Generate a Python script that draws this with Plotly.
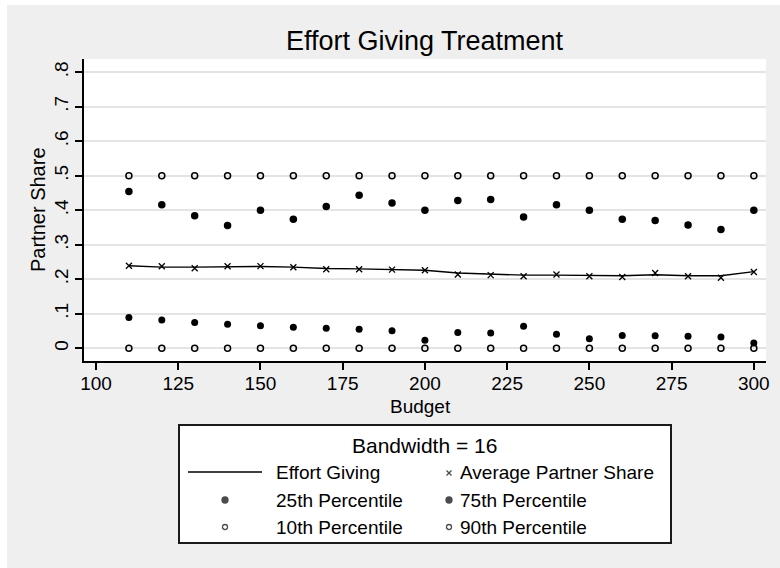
import plotly.graph_objects as go

# Budget levels
budget = [110, 120, 130, 140, 150, 160, 170, 180, 190, 200,
          210, 220, 230, 240, 250, 260, 270, 280, 290, 300]

# Smoothed effort-giving curve (bandwidth 16)
effort_giving = [0.239, 0.235, 0.235, 0.236, 0.237, 0.235, 0.231, 0.230, 0.228, 0.226,
                 0.218, 0.214, 0.212, 0.212, 0.210, 0.210, 0.213, 0.210, 0.210, 0.222]

# Average partner share at each budget
avg_share = [0.239, 0.2375, 0.232, 0.2375, 0.238, 0.235, 0.229, 0.229, 0.228, 0.226,
             0.214, 0.212, 0.2085, 0.214, 0.2085, 0.2065, 0.218, 0.2085, 0.2045, 0.221]

# Percentiles of partner share
p25 = [0.089, 0.082, 0.075, 0.070, 0.065, 0.061, 0.058, 0.055, 0.051, 0.023,
       0.046, 0.044, 0.064, 0.041, 0.028, 0.037, 0.036, 0.035, 0.033, 0.015]
p75 = [0.454, 0.416, 0.384, 0.356, 0.400, 0.374, 0.411, 0.443, 0.421, 0.400,
       0.428, 0.431, 0.380, 0.416, 0.400, 0.374, 0.370, 0.357, 0.344, 0.400]
p10 = [0.0] * 20
p90 = [0.5] * 20

x_ticks = [100, 125, 150, 175, 200, 225, 250, 275, 300]
y_ticks = [0, 0.1, 0.2, 0.3, 0.4, 0.5, 0.6, 0.7, 0.8]
y_tick_labels = ["0", ".1", ".2", ".3", ".4", ".5", ".6", ".7", ".8"]

legend_title = "Bandwidth = 16"
legend_labels = ["Effort Giving", "Average Partner Share", "25th Percentile",
                 "75th Percentile", "10th Percentile", "90th Percentile"]

W, H = 780, 568
FONT = "Liberation Sans, Arial, sans-serif"
BG = "#efefef"


def px(x):
    return x / W


def py(y):
    return 1 - y / H


# plot region in pixels
L, R, T, B = 84, 766, 59, 361

fig = go.Figure()

fig.add_trace(go.Scatter(x=budget, y=p90, mode="markers", name=legend_labels[5],
                         marker=dict(symbol="circle-open", size=6, color="black",
                                     line=dict(width=1.5))))
fig.add_trace(go.Scatter(x=budget, y=p10, mode="markers", name=legend_labels[4],
                         marker=dict(symbol="circle-open", size=6, color="black",
                                     line=dict(width=1.5))))
fig.add_trace(go.Scatter(x=budget, y=p75, mode="markers", name=legend_labels[3],
                         marker=dict(symbol="circle", size=7.5, color="black")))
fig.add_trace(go.Scatter(x=budget, y=p25, mode="markers", name=legend_labels[2],
                         marker=dict(symbol="circle", size=7, color="black")))
fig.add_trace(go.Scatter(x=budget, y=effort_giving, mode="lines", name=legend_labels[0],
                         line=dict(color="black", width=1.4)))
fig.add_trace(go.Scatter(x=budget, y=avg_share, mode="markers", name=legend_labels[1],
                         marker=dict(symbol="x-thin-open", size=6, color="black",
                                     line=dict(width=1.3, color="black"))))

# legend key markers, placed on a pixel-unit overlay axis
key_x = [225, 225, 449, 449, 449]
key_y = [500, 527, 473, 500, 527]
key_sym = ["circle", "circle-open", "x-thin-open", "circle", "circle-open"]
key_size = [6, 5, 5, 6, 5]
fig.add_trace(go.Scatter(x=key_x, y=key_y, xaxis="x2", yaxis="y2", mode="markers",
                         cliponaxis=False, hoverinfo="skip",
                         marker=dict(symbol=key_sym, size=key_size, color="black",
                                     line=dict(width=1.3, color="black"))))

shapes = [
    # white outer strips
    dict(type="rect", xref="paper", yref="paper", x0=0, x1=px(7), y0=0, y1=1,
         fillcolor="white", line_width=0, layer="below"),
    dict(type="rect", xref="paper", yref="paper", x0=0, x1=1, y0=py(5), y1=1,
         fillcolor="white", line_width=0, layer="below"),
    # plot region
    dict(type="rect", xref="paper", yref="paper", x0=px(L), x1=px(R), y0=py(B), y1=py(T),
         fillcolor="white", line_width=0, layer="below"),
    # legend box
    dict(type="rect", xref="paper", yref="paper", x0=px(179), x1=px(671),
         y0=py(543), y1=py(425), fillcolor="white",
         line=dict(color="#1a1a1a", width=2), layer="below"),
    # legend line sample
    dict(type="line", xref="paper", yref="paper", x0=px(188), x1=px(262),
         y0=py(472), y1=py(472), line=dict(color="black", width=1.4)),
]

annotations = [
    dict(text="Effort Giving Treatment", x=px(425), y=py(41), xref="paper", yref="paper",
         showarrow=False, xanchor="center", yanchor="middle",
         font=dict(size=27, color="black", family=FONT)),
    dict(text="Budget", x=px(420), y=py(406), xref="paper", yref="paper",
         showarrow=False, xanchor="center", yanchor="middle",
         font=dict(size=19, color="black", family=FONT)),
    dict(text="Partner Share", x=px(38), y=py(210), xref="paper", yref="paper",
         showarrow=False, xanchor="center", yanchor="middle", textangle=-90,
         font=dict(size=20, color="black", family=FONT)),
    dict(text=legend_title, x=px(425), y=py(445), xref="paper", yref="paper",
         showarrow=False, xanchor="center", yanchor="middle",
         font=dict(size=21, color="black", family=FONT)),
]
label_pos = [(274, 473), (458, 473), (274, 500), (458, 500), (274, 527), (458, 527)]
for lab, (lx, ly) in zip(legend_labels, label_pos):
    annotations.append(dict(text=lab, x=px(lx), y=py(ly), xref="paper", yref="paper",
                            showarrow=False, xanchor="left", yanchor="middle",
                            font=dict(size=19, color="black", family=FONT)))

fig.update_layout(
    width=W, height=H,
    margin=dict(l=0, r=0, t=0, b=0),
    paper_bgcolor=BG,
    plot_bgcolor="rgba(0,0,0,0)",
    showlegend=False,
    font=dict(family=FONT, color="black"),
    shapes=shapes,
    annotations=annotations,
    xaxis=dict(domain=[px(L), px(R)], range=[96.35, 303.7], tickvals=x_ticks,
               ticks="outside", ticklen=7, tickwidth=1.5, tickcolor="black",
               showline=True, linecolor="black", linewidth=1.5, showgrid=False,
               zeroline=False, automargin=False, ticklabelstandoff=-3,
               tickfont=dict(size=19, family=FONT, color="black")),
    yaxis=dict(domain=[py(B), py(T)], range=[-0.0368, 0.838], tickvals=y_ticks,
               ticktext=y_tick_labels, tickangle=-90,
               ticks="outside", ticklen=7, tickwidth=1.5, tickcolor="black",
               showline=True, linecolor="black", linewidth=1.5,
               showgrid=True, gridcolor="#e4e4e4", gridwidth=1.5,
               zeroline=False, automargin=False, ticklabelstandoff=0,
               tickfont=dict(size=19, family=FONT, color="black")),
    xaxis2=dict(domain=[0, 1], range=[0, W], visible=False, anchor="y2", fixedrange=True),
    yaxis2=dict(domain=[0, 1], range=[H, 0], visible=False, anchor="x2", fixedrange=True),
)

fig.write_html("out.html")
